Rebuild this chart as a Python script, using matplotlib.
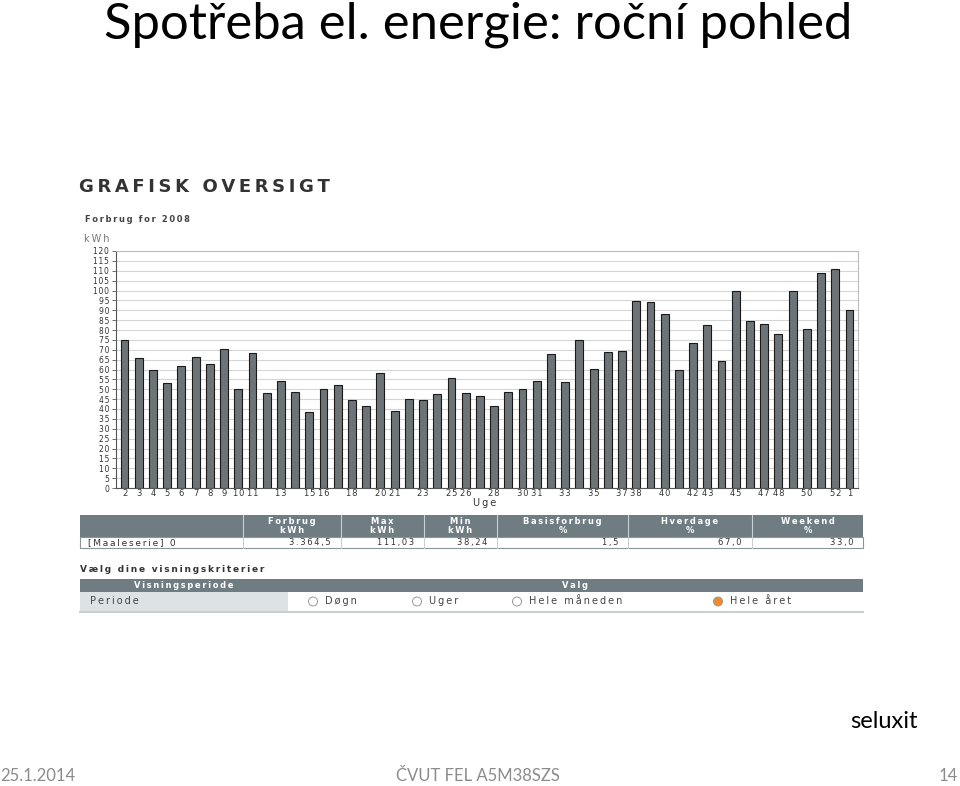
import matplotlib.pyplot as plt
from matplotlib.patches import Rectangle, Ellipse

# weekly consumption (kWh), weeks 2..52 then week 1
weeks = list(range(2, 53)) + [1]
kwh = [75, 65.7, 59.8, 53.4, 62, 66.1, 62.7, 70.6, 49.9, 68.4,
       48.3, 54.4, 48.8, 38.5, 50, 51.9, 44.8, 41.4, 58.1, 39,
       45.1, 44.8, 47.7, 55.8, 48.2, 46.6, 41.4, 48.8, 50, 54.1,
       67.9, 53.9, 74.9, 60.3, 69, 69.6, 94.8, 94.3, 87.9, 59.8,
       73.5, 82.6, 64.4, 99.5, 84.7, 83.1, 78.2, 99.9, 80.6, 109,
       111.03, 89.9]
shown_weeks = [2, 3, 4, 5, 6, 7, 8, 9, 10, 11, 13, 15, 16, 18, 20, 21, 23,
               25, 26, 28, 30, 31, 33, 35, 37, 38, 40, 42, 43, 45, 47, 48,
               50, 52, 1]

summary_headers = ["Forbrug\nkWh", "Max\nkWh", "Min\nkWh",
                   "Basisforbrug\n%", "Hverdage\n%", "Weekend\n%"]
summary_values = ["3.364,5", "111,03", "38,24", "1,5", "67,0", "33,0"]
periods = ["Døgn", "Uger", "Hele måneden", "Hele året"]

W, H = 960, 786
fig = plt.figure(figsize=(9.6, 7.86), dpi=100)


def fx(x):
    return x / W


def fy(y):
    return 1 - y / H


def sp(s, gap="\u2009"):
    # the screenshot font is letter-spaced, fake it with thin spaces
    return "\n".join(gap.join(line) for line in s.split("\n"))


def rect(x0, y0, x1, y1, fc, ec="none", lw=0.8):
    fig.patches.append(Rectangle((fx(x0), fy(y1)), fx(x1) - fx(x0), fy(y0) - fy(y1),
                                 transform=fig.transFigure, facecolor=fc,
                                 edgecolor=ec, linewidth=lw, zorder=1))


def txt(x, y, s, **kw):
    fig.text(fx(x), fy(y), s, **kw)


# slide texts
txt(104, 38, "Spotřeba el. energie: roční pohled", fontsize=36.5, family="Lato",
    va="baseline", ha="left")
txt(918, 722, "seluxit", fontsize=17, family="Lato", ha="right", va="center")
txt(0, 776, "25.1.2014", fontsize=12, family="Lato", color="#8c8c8c", va="center")
txt(478, 776, "ČVUT FEL A5M38SZS", fontsize=12, family="Lato", color="#8c8c8c",
    ha="center", va="center")
txt(958, 776, "14", fontsize=12, family="Lato", color="#8c8c8c", ha="right",
    va="center")

# screenshot header
txt(79, 187, sp("GRAFISK OVERSIGT"), fontsize=13, weight="black",
    color="#333333", va="center", family="DejaVu Sans")
txt(85, 219, sp("Forbrug for 2008"), fontsize=6, weight="bold", color="#444444",
    va="center")
txt(84, 239, sp("kWh"), fontsize=7, color="#777777", va="center")

# bar chart
ax = fig.add_axes([fx(116), fy(488), fx(858) - fx(116), fy(251) - fy(488)])
pos = list(range(len(weeks)))
ax.bar(pos, kwh, width=0.55, color="#6c7478", edgecolor="#1a1a1a",
       linewidth=0.8, zorder=3)
ax.set_ylim(0, 120)
ax.set_xlim(-0.6, len(weeks) - 0.4)
ax.set_yticks(range(0, 121, 5))
ax.set_yticklabels([sp(str(v), "\u200a") for v in range(0, 121, 5)],
                   fontsize=5.5, color="#333333")
ax.set_xticks([pos[weeks.index(w)] for w in shown_weeks])
ax.set_xticklabels([sp(str(w), "\u200a") for w in shown_weeks], fontsize=6,
                   color="#333333")
ax.tick_params(axis="y", length=3, width=0.6, pad=2, color="#555555")
ax.tick_params(axis="x", length=0, pad=1)
ax.grid(axis="y", color="#d5d5d5", linewidth=0.8, zorder=0)
for side in ["top", "right"]:
    ax.spines[side].set_color("#bbbbbb")
ax.spines["left"].set_color("#555555")
ax.spines["bottom"].set_color("#555555")
txt(485, 503, sp("Uge"), fontsize=7, color="#333333", ha="center", va="center")

# summary table
cols = [80, 243, 341, 424, 497, 628, 752, 863]
head = "#6f7d83"
rect(80, 515, 863, 537, head)
rect(80, 537, 863, 548, "white", ec="#8a9599")
for c in cols[1:-1]:
    fig.add_artist(plt.Line2D([fx(c), fx(c)], [fy(548), fy(515)],
                              transform=fig.transFigure, color="#c8d0d3",
                              linewidth=0.8, zorder=2))
for i, (h, v) in enumerate(zip(summary_headers, summary_values)):
    xc = (cols[i + 1] + cols[i + 2]) / 2
    txt(xc, 526, sp(h), fontsize=6, weight="bold", color="white", ha="center",
        va="center", linespacing=0.9, zorder=3)
    txt(cols[i + 2] - 10, 542.5, sp(v), fontsize=6, color="#333333", ha="right",
        va="center", zorder=3)
txt(88, 542.5, sp("[Maaleserie] 0"), fontsize=6.5, color="#333333",
    va="center", zorder=3)

# selection table
txt(80, 570, sp("Vælg dine visningskriterier"), fontsize=6.5, weight="bold",
    color="#333333", va="center")
rect(80, 579, 863, 592, head)
rect(80, 592, 288, 611, "#dde3e5")
rect(288, 592, 863, 611, "white")
fig.add_artist(plt.Line2D([fx(80), fx(863)], [fy(612), fy(612)],
                          transform=fig.transFigure, color="#c8d0d3",
                          linewidth=1.5, zorder=2))
txt(184, 585.5, sp("Visningsperiode"), fontsize=6, weight="bold", color="white",
    ha="center", va="center", zorder=3)
txt(575, 585.5, sp("Valg"), fontsize=6, weight="bold", color="white",
    ha="center", va="center", zorder=3)
txt(90, 601.5, sp("Periode"), fontsize=7, color="#444444", va="center",
    zorder=3)
radio_x = [313, 417, 517, 718]
for i, (p, xr) in enumerate(zip(periods, radio_x)):
    fc = "#f08a2a" if i == 3 else "white"
    fig.add_artist(Ellipse((fx(xr), fy(601.5)), 9 / W, 9 / H,
                           transform=fig.transFigure, facecolor=fc,
                           edgecolor="#999999", linewidth=0.7, zorder=4))
    txt(xr + 12, 601.5, sp(p), fontsize=7, color="#444444", va="center",
        zorder=4)

fig.savefig("out.png", dpi=100)
